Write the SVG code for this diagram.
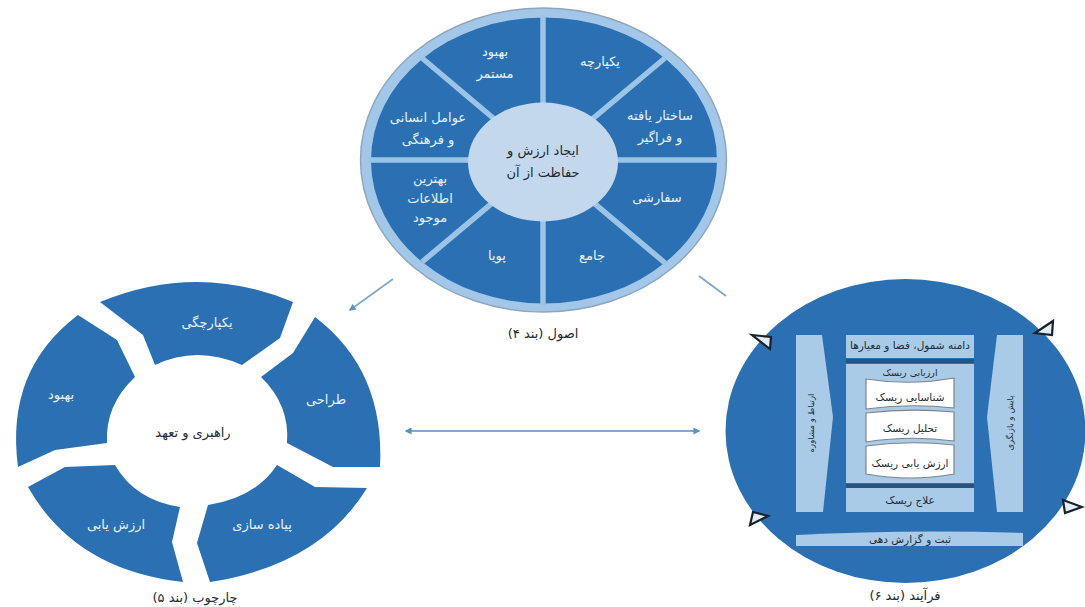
<svg xmlns="http://www.w3.org/2000/svg" width="1085" height="607" viewBox="0 0 1085 607">
<style>
text{font-family:"DejaVu Sans","Noto Sans",sans-serif;text-anchor:middle;direction:rtl;dominant-baseline:central;font-size:13px}
.w{fill:#e8f1fa}
.k{fill:#222b33}
.m{font-size:10.5px}
.d{fill:#2a70b3}
.l{fill:#a9cbe8}
.s{stroke:#9cc4e6;stroke-width:5.5;fill:none}
.sc{fill:#fff;stroke:#7d8489;stroke-width:1.2}
.t{fill:#e4edf6;stroke:#16222e;stroke-width:2.2;stroke-linejoin:miter}
.c{stroke:#7fa9d0;stroke-width:1.8;fill:none}
</style>
<defs>
<marker id="a" viewBox="0 0 10 10" refX="8" refY="5" markerWidth="7" markerHeight="7" markerUnits="userSpaceOnUse" orient="auto-start-reverse"><path d="M0 0L10 5L0 10z" fill="#5b93c9"/></marker>
</defs>
<rect width="1085" height="607" fill="#fff"/>
<g id="connectors">
<path class="c" d="M393 279L350 310" marker-end="url(#a)"/>
<path class="c" d="M699 276L726 296"/>
<path class="c" d="M406 431H699" marker-start="url(#a)" marker-end="url(#a)"/>
</g>
<g id="principles">
<ellipse cx="543.5" cy="160" rx="183" ry="152" fill="#a3c7e8" stroke="#8fa6ba" stroke-width="1.5"/>
<ellipse class="d" cx="544" cy="160.5" rx="173" ry="143"/>
<path class="s" d="M543 15V306M368 160H720M422 58L665 263M665 58L422 262"/>
<ellipse cx="543" cy="162" rx="75" ry="59.500" fill="#c3d8ec"/>
<text class="k" x="543" y="150">ایجاد ارزش و</text>
<text class="k" x="543" y="172">حفاظت از آن</text>
<text class="w" x="600" y="61">یکپارچه</text>
<text class="w" x="660" y="115">ساختار یافته</text>
<text class="w" x="660" y="137">و فراگیر</text>
<text class="w" x="657" y="197">سفارشی</text>
<text class="w" x="592" y="255">جامع</text>
<text class="w" x="497" y="255">پویا</text>
<text class="w" x="430" y="178">بهترین</text>
<text class="w" x="430" y="198">اطلاعات</text>
<text class="w" x="430" y="217">موجود</text>
<text class="w" x="428" y="117">عوامل انسانی</text>
<text class="w" x="428" y="139">و فرهنگی</text>
<text class="w" x="495" y="51">بهبود</text>
<text class="w" x="495" y="73">مستمر</text>
<text class="k" x="543" y="333">اصول (بند ۴)</text>
</g>
<g id="framework">
<path id="f1" class="d" d="M100 302Q197 262 293 302L280 338L242 365Q197 345 155 365L143 335Z"/>
<path id="f2" class="d" d="M315 317Q385 370 380 467H333L287 443Q290 405 261 377L293 353Z"/>
<path id="f3" class="d" d="M367 488Q320 565 210 582L197 543L208 505Q255 498 277 465L315 487Z"/>
<path id="f4" class="d" d="M28 487Q75 570 183 582L172 542L180 507Q135 500 115 465L65 467Z"/>
<path id="f5" class="d" d="M78 315Q5 370 18 467L55 450L107 443Q105 405 135 377L117 340Z"/>
<text class="w" x="207" y="322">یکپارچگی</text>
<text class="w" x="326" y="399">طراحی</text>
<text class="w" x="262" y="524">پیاده سازی</text>
<text class="w" x="116" y="524">ارزش یابی</text>
<text class="w" x="61" y="394">بهبود</text>
<text class="k" x="193" y="432">راهبری و تعهد</text>
<text class="k" x="195" y="597">چارچوب (بند ۵)</text>
</g>
<g id="process">
<ellipse class="d" cx="905.500" cy="431" rx="180" ry="152"/>
<path class="l" d="M796 335H822L833 417L823 512H796Z"/>
<path class="l" d="M1023 335H997L987 417L997 512H1023Z"/>
<rect class="l" x="846" y="335" width="128" height="23"/>
<rect x="846" y="359" width="128" height="4" fill="#1f5689"/>
<rect class="l" x="846" y="364" width="128" height="119"/>
<rect x="846" y="484" width="128" height="4" fill="#1f5689"/>
<rect class="l" x="846" y="488" width="128" height="24"/>
<path class="l" d="M796 535Q910 529 1023 533V546H796Z"/>
<path class="sc" d="M866 379Q910 386 954 378V408Q910 403 866 409Z"/>
<path class="sc" d="M866 413Q910 408 954 412V441Q910 435 866 442Z"/>
<path class="sc" d="M866 446Q910 440 954 445V474Q910 482 866 474Z"/>
<text class="k m" x="910" y="345">دامنه شمول، فضا و معیارها</text>
<text class="k m" x="910" y="372" style="font-size:9.5px">ارزیابی ریسک</text>
<text class="k m" x="910" y="397">شناسایی ریسک</text>
<text class="k m" x="910" y="428">تحلیل ریسک</text>
<text class="k m" x="910" y="463">ارزش یابی ریسک</text>
<text class="k m" x="910" y="500">علاج ریسک</text>
<text class="k m" x="910" y="539">ثبت و گزارش دهی</text>
<text class="k" transform="translate(811 423) rotate(-90)" style="font-size:8.5px">ارتباط و مشاوره</text>
<text class="k" transform="translate(1010 423) rotate(-90)" style="font-size:8.5px">پایش و بازنگری</text>
<text class="k" x="905" y="595">فرآیند (بند ۶)</text>
<path class="t" d="M752 335L771 337L770 349Z"/>
<path class="t" d="M1035 333L1053 321L1052 335Z"/>
<path class="t" d="M750 525L768 516L753 512Z"/>
<path class="t" d="M1063 500L1082 507L1065 513Z"/>
</g>
</svg>
